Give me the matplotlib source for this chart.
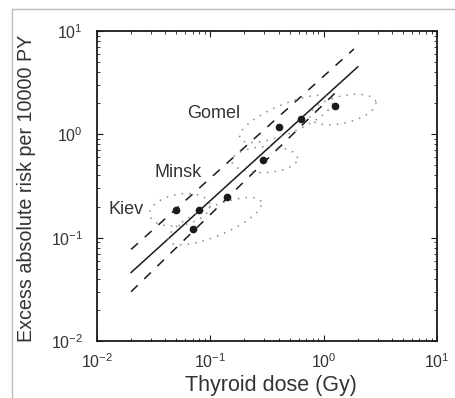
import numpy as np
import matplotlib
matplotlib.use("Agg")
import matplotlib.pyplot as plt
from matplotlib.lines import Line2D

# dose-group points (Gy, EAR per 10^4 PY)
dose = [0.050, 0.080, 0.071, 0.14, 0.29, 0.40, 0.63, 1.26]
risk = [0.187, 0.187, 0.12, 0.25, 0.57, 1.19, 1.41, 1.90]

# fitted line and its confidence band
fit_x = [0.02, 2.0]
fit_y = [0.046, 4.5]
upper_x = [0.02, 1.85]
upper_y = [0.077, 6.7]
lower_x = [0.02, 1.35]
lower_y = [0.030, 2.7]

# dotted confidence regions (log10 centre x, log10 centre y, half-width, half-height, angle deg)
reg_cx = [0.17, -0.33, -0.52, -1.27, -0.96]
reg_cy = [0.24, 0.15, -0.245, -0.73, -0.84]
reg_a = [0.30, 0.45, 0.29, 0.27, 0.45]
reg_b = [0.13, 0.14, 0.125, 0.15, 0.14]
reg_ang = [15, 25, 3, 12, 25]

city_names = ["Gomel", "Minsk", "Kiev"]
city_x = [0.108, 0.052, 0.018]
city_y = [1.58, 0.43, 0.187]

plt.rcParams["font.family"] = ["Liberation Sans", "DejaVu Sans"]
plt.rcParams["mathtext.fontset"] = "custom"
plt.rcParams["mathtext.rm"] = "Liberation Sans"

ink = "#1a1a1a"
txt = "#333333"
fig = plt.figure(figsize=(4.55, 3.98), dpi=100)
ax = fig.add_axes([97 / 455, 1 - 341 / 398, 340 / 455, 310 / 398])
ax.set_xscale("log")
ax.set_yscale("log")
ax.set_xlim(1e-2, 1e1)
ax.set_ylim(1e-2, 1e1)

ax.plot(fit_x, fit_y, color=ink, lw=1.1)
ax.plot(upper_x, upper_y, color=ink, lw=1.1, ls=(0, (6, 6)))
ax.plot(lower_x, lower_y, color=ink, lw=1.1, ls=(0, (6, 6)))

t = np.linspace(0, 2 * np.pi, 120)
for cx, cy, a, b, ang in zip(reg_cx, reg_cy, reg_a, reg_b, reg_ang):
    th = np.deg2rad(ang)
    ex = cx + a * np.cos(t) * np.cos(th) - b * np.sin(t) * np.sin(th)
    ey = cy + a * np.cos(t) * np.sin(th) + b * np.sin(t) * np.cos(th)
    ax.plot(10 ** ex, 10 ** ey, color="#8a8a8a", lw=1.1, ls=(0, (1, 4)))

ax.plot(dose, risk, "o", color=ink, ms=4.5)

for name, x, y in zip(city_names, city_x, city_y):
    ax.text(x, y, name, fontsize=13, color=txt, ha="center", va="center")

ticks = [1e-2, 1e-1, 1e0, 1e1]
labels = [r"$\mathregular{10^{-2}}$", r"$\mathregular{10^{-1}}$",
          r"$\mathregular{10^{0}}$", r"$\mathregular{10^{1}}$"]
ax.set_xticks(ticks)
ax.set_xticklabels(labels)
ax.set_yticks(ticks)
ax.set_yticklabels(labels)
ax.tick_params(which="both", direction="in", top=True, right=True, labelsize=11.5,
               colors=ink, labelcolor=txt)
ax.tick_params(which="major", length=4, width=0.8)
ax.tick_params(axis="y", which="major", pad=10)
ax.tick_params(axis="x", which="major", pad=8)
ax.tick_params(which="minor", length=2, width=0.6)
for s in ax.spines.values():
    s.set_linewidth(1.3)
    s.set_color(ink)

fig.text(271 / 455, 1 - 385 / 398, "Thyroid dose (Gy)", fontsize=15.5, color=txt,
         ha="center", va="center")
fig.text(27 / 455, 1 - 188 / 398, "Excess absolute risk per 10000 PY", rotation=90,
         fontsize=14.2, color=txt, ha="center", va="center")

# scan frame lines
fig.add_artist(Line2D([12 / 455, 12 / 455], [0, 1 - 9 / 398], color="#bbbbbb", lw=1))
fig.add_artist(Line2D([12 / 455, 1], [1 - 9 / 398, 1 - 9 / 398], color="#bbbbbb", lw=1))

fig.savefig("out.png", dpi=100)
